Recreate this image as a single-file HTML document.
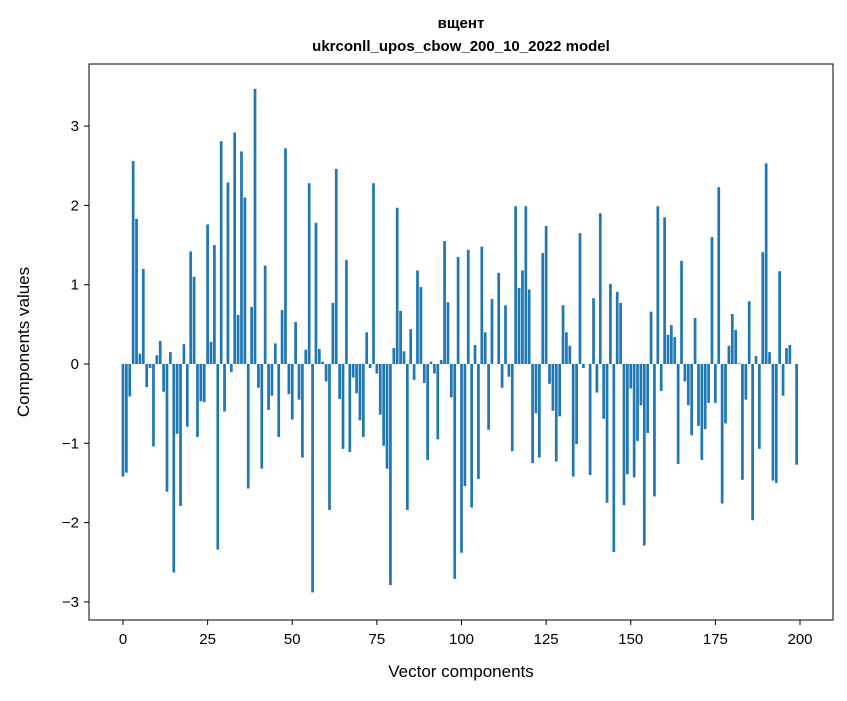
<!DOCTYPE html>
<html><head><meta charset="utf-8"><style>
body{margin:0;background:#fff;font-family:"Liberation Sans","DejaVu Sans",sans-serif;}
svg text{font-family:"Liberation Sans","DejaVu Sans",sans-serif;}
</style></head><body>
<svg id="chart" width="847" height="696" xmlns="http://www.w3.org/2000/svg">
<rect width="847" height="696" fill="#fff"/>
<text x="461" y="28" text-anchor="middle" font-size="15" font-weight="bold">вщент</text>
<text x="461" y="51" text-anchor="middle" font-size="15" font-weight="bold">ukrconll_upos_cbow_200_10_2022 model</text>
<g id="bars"></g>
<g id="xticks"></g>
<g id="yticks"></g>
<rect x="89" y="64" width="744" height="556" fill="none" stroke="#000" stroke-width="1"/>
<text x="461" y="677" text-anchor="middle" font-size="17">Vector components</text>
<text transform="translate(29,342) rotate(-90)" text-anchor="middle" font-size="17">Components values</text>
</svg>
<script>
const values = [-1.42,-1.37,-0.41,2.56,1.83,0.13,1.20,-0.29,-0.05,-1.04,
0.11,0.29,-0.35,-1.61,0.15,-2.63,-0.88,-1.79,0.25,-0.79,
1.42,1.10,-0.92,-0.47,-0.48,1.76,0.28,1.50,-2.34,2.81,
-0.60,2.29,-0.10,2.92,0.62,2.68,2.10,-1.57,0.72,3.47,
-0.30,-1.32,1.24,-0.58,-0.40,0.26,-0.92,0.68,2.72,-0.38,
-0.70,0.53,-0.45,-1.18,0.18,2.28,-2.88,1.78,0.19,0.03,
-0.22,-1.84,0.77,2.46,-0.44,-1.07,1.31,-1.11,-0.17,-0.37,
-0.71,-0.92,0.40,-0.05,2.28,-0.12,-0.64,-1.03,-1.32,-2.79,
0.20,1.97,0.67,0.16,-1.84,0.44,-0.20,1.18,0.97,-0.24,
-1.21,0.03,-0.12,-0.95,0.05,1.55,0.78,-0.42,-2.71,1.35,
-2.38,-1.54,1.44,-1.81,0.24,-1.45,1.48,0.40,-0.83,0.82,
0.0,1.15,-0.30,0.74,-0.16,-1.10,1.99,0.96,1.18,1.99,
0.94,-1.25,-0.62,-1.18,1.40,1.74,-0.25,-0.59,-1.23,-0.66,
0.74,0.40,0.23,-1.42,-1.01,1.65,-0.05,0.0,-1.40,0.83,
-0.36,1.90,-0.69,-1.75,1.01,-2.37,0.91,0.77,-1.78,-1.39,
-0.31,-1.43,-0.97,-0.52,-2.29,-0.87,0.66,-1.67,1.99,-0.34,
1.85,0.37,0.49,0.34,-1.26,1.30,-0.22,-0.52,-0.90,0.58,
-0.78,-1.21,-0.82,-0.49,1.60,-0.49,2.23,-1.76,-0.75,0.23,
0.63,0.43,0.01,-1.46,-0.45,0.79,-1.97,0.10,-1.07,1.41,
2.53,0.15,-1.47,-1.50,1.17,-0.40,0.20,0.24,0.0,-1.27];
const xTicks = [0,25,50,75,100,125,150,175,200];
const yTicks = [-3,-2,-1,0,1,2,3];
const NS="http://www.w3.org/2000/svg";
function xs(v){return 123 + (v)*(800-123)/200;}
function ys(v){return 364 - v*79.3;}
const bw = 0.8*(800-123)/200;
const gb=document.getElementById('bars');
values.forEach((v,i)=>{
  const r=document.createElementNS(NS,'rect');
  
  
  const y0=ys(0), y1=ys(v);
  r.setAttribute('x',xs(i)-bw/2);
  r.setAttribute('y',Math.min(y0,y1));
  r.setAttribute('width',bw);
  r.setAttribute('height',Math.max(Math.abs(y1-y0),0.01));
  r.setAttribute('fill','#1f77b4');
  gb.appendChild(r);
});
const gx=document.getElementById('xticks');
xTicks.forEach(t=>{
  const l=document.createElementNS(NS,'line');
  
  
  l.setAttribute('x1',xs(t));l.setAttribute('x2',xs(t));
  l.setAttribute('y1',620);l.setAttribute('y2',625);
  l.setAttribute('stroke','#000');
  gx.appendChild(l);
  const tx=document.createElementNS(NS,'text');
  
  
  tx.setAttribute('x',xs(t));tx.setAttribute('y',644);
  tx.setAttribute('text-anchor','middle');tx.setAttribute('font-size','15');
  tx.textContent=t;
  gx.appendChild(tx);
});
const gy=document.getElementById('yticks');
yTicks.forEach(t=>{
  const l=document.createElementNS(NS,'line');
  
  
  l.setAttribute('x1',84);l.setAttribute('x2',89);
  l.setAttribute('y1',ys(t));l.setAttribute('y2',ys(t));
  l.setAttribute('stroke','#000');
  gy.appendChild(l);
  const tx=document.createElementNS(NS,'text');
  
  
  tx.setAttribute('x',79);tx.setAttribute('y',ys(t)+5);
  tx.setAttribute('text-anchor','end');tx.setAttribute('font-size','15');
  tx.textContent=(t<0?'\u2212'+(-t):t);
  gy.appendChild(tx);
});
</script>
</body></html>
